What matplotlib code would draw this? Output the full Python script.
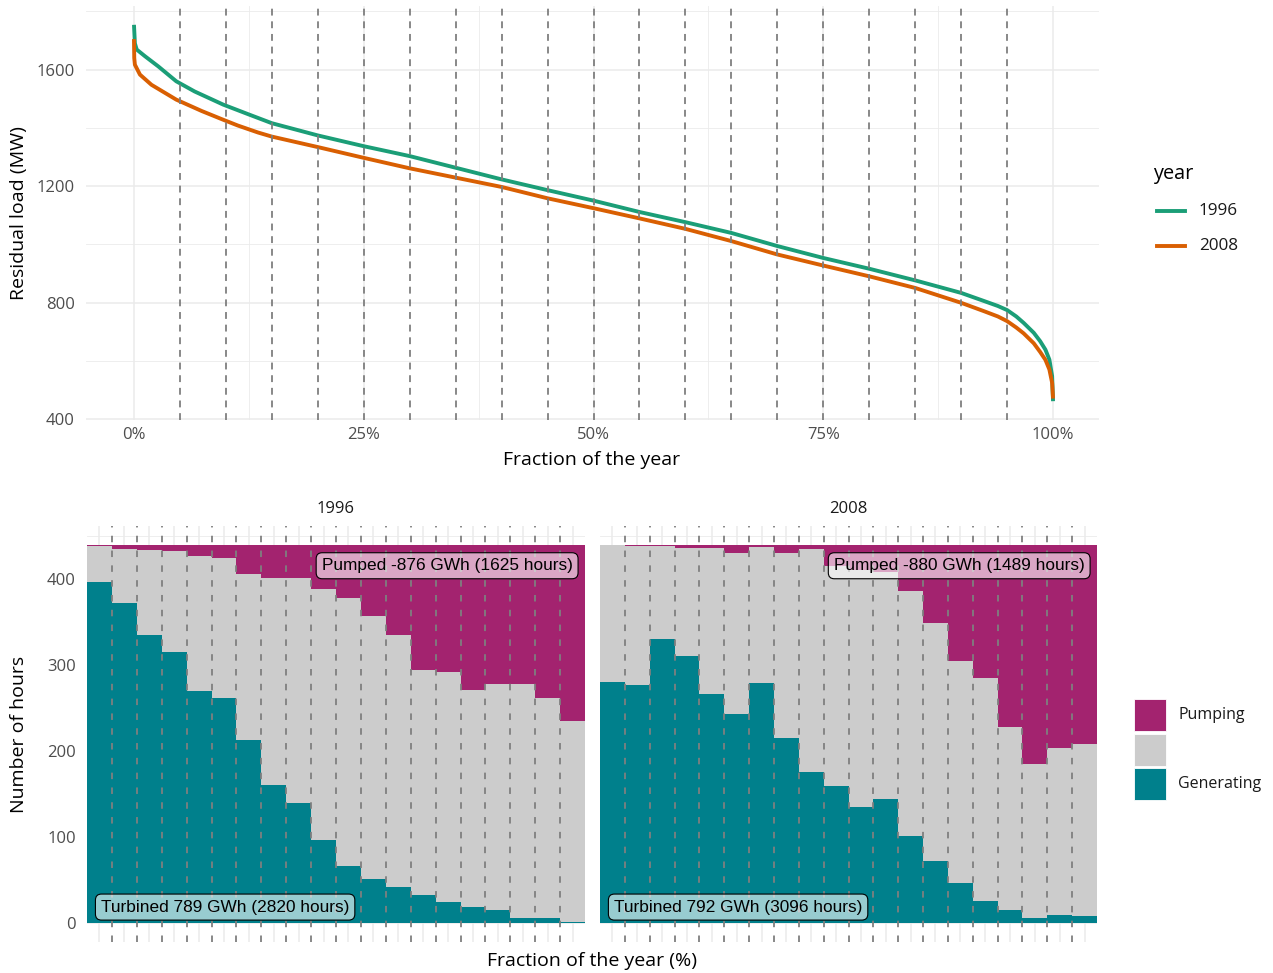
import matplotlib
matplotlib.use("Agg")
import matplotlib.pyplot as plt
import numpy as np
from matplotlib.lines import Line2D
from matplotlib.patches import Rectangle

plt.rcParams['font.family'] = ['Open Sans', 'DejaVu Sans']

W, H, DPI = 1273, 973, 100

# ---- Residual load duration curves (fraction of year -> MW) ----
frac_1996 = [0.0, 0.001, 0.003, 0.012, 0.0265, 0.046, 0.066, 0.097, 0.125, 0.15,
             0.20, 0.25, 0.30, 0.35, 0.40, 0.45, 0.50, 0.55, 0.60, 0.65, 0.70,
             0.75, 0.80, 0.85, 0.90, 0.925, 0.94, 0.95, 0.96, 0.968, 0.979,
             0.986, 0.9917, 0.996, 0.999, 1.0]
load_1996 = [1754, 1690, 1669, 1646, 1611, 1560, 1525, 1480, 1446, 1416,
             1374, 1337, 1303, 1263, 1223, 1186, 1150, 1111, 1076, 1039, 994,
             953, 916, 876, 833, 805, 788, 774, 752, 730, 696,
             667, 638, 604, 547, 461]

frac_2008 = [0.0, 0.0003, 0.001, 0.0065, 0.019, 0.046, 0.0736, 0.097, 0.113, 0.135,
             0.15, 0.20, 0.25, 0.30, 0.35, 0.40, 0.45, 0.50, 0.55, 0.60, 0.65,
             0.70, 0.75, 0.80, 0.85, 0.90, 0.925, 0.94, 0.95, 0.96, 0.968,
             0.979, 0.986, 0.9917, 0.996, 0.999, 1.0]
load_2008 = [1705, 1640, 1617, 1583, 1548, 1497, 1458, 1428, 1408, 1384,
             1370, 1334, 1297, 1261, 1229, 1197, 1158, 1124, 1089, 1053, 1011,
             965, 927, 890, 850, 799, 770, 752, 736, 714, 694,
             660, 630, 603, 570, 524, 470]

years = ["1996", "2008"]
year_colors = ["#1B9E77", "#D95F02"]

# ---- Storage operation per 5 % bin of the sorted year (hours) ----
bin_hours = 439.2
gen_1996 = [396, 372, 335, 315, 269, 261, 213, 160, 140, 96,
            66, 51, 42, 33, 25, 19, 15, 6, 6, 1]
pump_1996 = [1, 5, 6, 7, 13, 15, 34, 38, 38, 51,
             62, 83, 105, 145, 148, 169, 161, 161, 178, 205]
gen_2008 = [280, 277, 330, 310, 266, 243, 279, 215, 175, 159,
            135, 144, 101, 72, 46, 26, 15, 6, 9, 8]
pump_2008 = [0, 1, 1, 4, 4, 9, 3, 9, 5, 25,
             29, 31, 53, 91, 135, 154, 212, 254, 236, 231]

pump_labels = ["Pumped -876 GWh (1625 hours)", "Pumped -880 GWh (1489 hours)"]
turb_labels = ["Turbined 789 GWh (2820 hours)", "Turbined 792 GWh (3096 hours)"]

C_GEN, C_IDLE, C_PUMP = "#00808C", "#CCCCCC", "#A3236F"
GRID = "#EBEBEB"
DASH = "#7F7F7F"
TICK = "#4D4D4D"
TICK_SIZE = 12
TITLE_SIZE = 14


def fx(x):
    return x / W


def fy(y):
    return 1 - y / H


def panel(x0, y0, x1, y1):
    return fig.add_axes([fx(x0), fy(y1), (x1 - x0) / W, (y1 - y0) / H])


def strip_axes(ax):
    for s in ax.spines.values():
        s.set_visible(False)
    ax.set_axisbelow(True)
    ax.tick_params(which="both", length=0, colors=TICK, labelsize=TICK_SIZE)


fig = plt.figure(figsize=(W / DPI, H / DPI), dpi=DPI)

boundaries = np.arange(0.05, 1.0, 0.05)

# ---------------- top: load duration curves ----------------
ax = panel(86, 6, 1099, 420)
strip_axes(ax)
for fr, ld, c in zip([frac_1996, frac_2008], [load_1996, load_2008], year_colors):
    ax.plot(fr, ld, color=c, lw=2.8, solid_capstyle="butt", solid_joinstyle="round",
            zorder=3)
lo = min(min(load_1996), min(load_2008))
hi = max(max(load_1996), max(load_2008))
pad = 0.05 * (hi - lo)
ax.set_ylim(lo - pad, hi + pad)
ax.set_xlim(-0.0522, 1.05)
ax.set_yticks([400, 800, 1200, 1600])
ax.set_yticks([600, 1000, 1400, 1800], minor=True)
ax.set_xticks([0, 0.25, 0.5, 0.75, 1.0])
ax.set_xticklabels(["0%", "25%", "50%", "75%", "100%"])
ax.set_xticks([0.125, 0.375, 0.625, 0.875], minor=True)
ax.grid(which="major", color=GRID, lw=1.1)
ax.grid(which="minor", color=GRID, lw=0.6)
ax.tick_params(axis="y", pad=8)
ax.tick_params(axis="x", pad=5)
for b in boundaries:
    ax.axvline(b, color=DASH, lw=1.3, ls=(0, (3.8, 3.2)), zorder=4)

fig.text(fx(592), fy(460), "Fraction of the year", ha="center", va="center",
         fontsize=TITLE_SIZE)
fig.text(fx(19), fy(213), "Residual load (MW)", ha="center", va="center",
         rotation=90, fontsize=TITLE_SIZE)

# legend for the curves
fig.text(fx(1153), fy(174), "year", ha="left", va="center", fontsize=14.3)
for i, (lab, c) in enumerate(zip(years, year_colors)):
    yy = 211 + 35 * i
    fig.add_artist(Line2D([fx(1157), fx(1185)], [fy(yy), fy(yy)], color=c, lw=2.8,
                          transform=fig.transFigure))
    fig.text(fx(1199), fy(yy), lab, ha="left", va="center", fontsize=12.3,
             color="#1A1A1A")

# ---------------- bottom: stacked operation bars ----------------
gen_all = [gen_1996, gen_2008]
pump_all = [pump_1996, pump_2008]
panel_x = [(87, 585), (600, 1097)]
left_edges = np.arange(20) * 0.05
centres = left_edges + 0.025

for k in range(2):
    x0, x1 = panel_x[k]
    axb = panel(x0, 526, x1, 942)
    strip_axes(axb)
    gen = np.array(gen_all[k], dtype=float)
    pump = np.array(pump_all[k], dtype=float)
    idle = bin_hours - gen - pump
    axb.bar(left_edges, gen, width=0.05, align="edge", color=C_GEN, lw=0, zorder=2)
    axb.bar(left_edges, idle, bottom=gen, width=0.05, align="edge", color=C_IDLE,
            lw=0, zorder=2)
    axb.bar(left_edges, pump, bottom=gen + idle, width=0.05, align="edge",
            color=C_PUMP, lw=0, zorder=2)
    axb.set_xlim(0, 1)
    axb.set_ylim(-0.05 * bin_hours, 1.05 * bin_hours)
    axb.set_yticks([0, 100, 200, 300, 400])
    axb.set_yticks([50, 150, 250, 350, 450], minor=True)
    axb.set_xticks(centres)
    axb.set_xticks(boundaries, minor=True)
    axb.set_xticklabels([])
    axb.grid(which="major", color=GRID, lw=1.1)
    axb.grid(which="minor", axis="y", color=GRID, lw=0.6)
    axb.tick_params(axis="y", pad=8)
    if k == 1:
        axb.set_yticklabels([])
    for b in boundaries:
        axb.axvline(b, color=DASH, lw=1.3, ls=(0, (3.6, 4.6)), zorder=4)
    box = dict(boxstyle="round,pad=0.32,rounding_size=0.35", fc=(1, 1, 1, 0.6),
               ec="black", lw=0.8)
    axb.text(0.975, 415, pump_labels[k], ha="right", va="center",
             fontfamily=["Liberation Sans", "DejaVu Sans"], fontsize=12.4,
             color="black", bbox=box, zorder=6)
    axb.text(0.028, 18.6, turb_labels[k], ha="left", va="center",
             fontfamily=["Liberation Sans", "DejaVu Sans"], fontsize=12.4,
             color="black", bbox=box, zorder=6)
    fig.text(fx((x0 + x1) / 2), fy(509), years[k], ha="center", va="center",
             fontsize=12, color="#1A1A1A")

fig.text(fx(592), fy(961), "Fraction of the year (%)", ha="center", va="center",
         fontsize=TITLE_SIZE)
fig.text(fx(19), fy(734), "Number of hours", ha="center", va="center",
         rotation=90, fontsize=TITLE_SIZE)

# legend for the operation modes
legend_items = [(C_PUMP, "Pumping", 699), (C_IDLE, "", 733.5), (C_GEN, "Generating", 768)]
for col, lab, ytop in legend_items:
    fig.add_artist(Rectangle((fx(1134), fy(ytop + 32)), 32 / W, 32 / H, fc=col,
                             ec="white", lw=0.6, transform=fig.transFigure))
    if lab:
        fig.text(fx(1178), fy(ytop + 16), lab, ha="left", va="center", fontsize=11.5,
                 color="#1A1A1A")

fig.savefig("out.png", dpi=DPI)
